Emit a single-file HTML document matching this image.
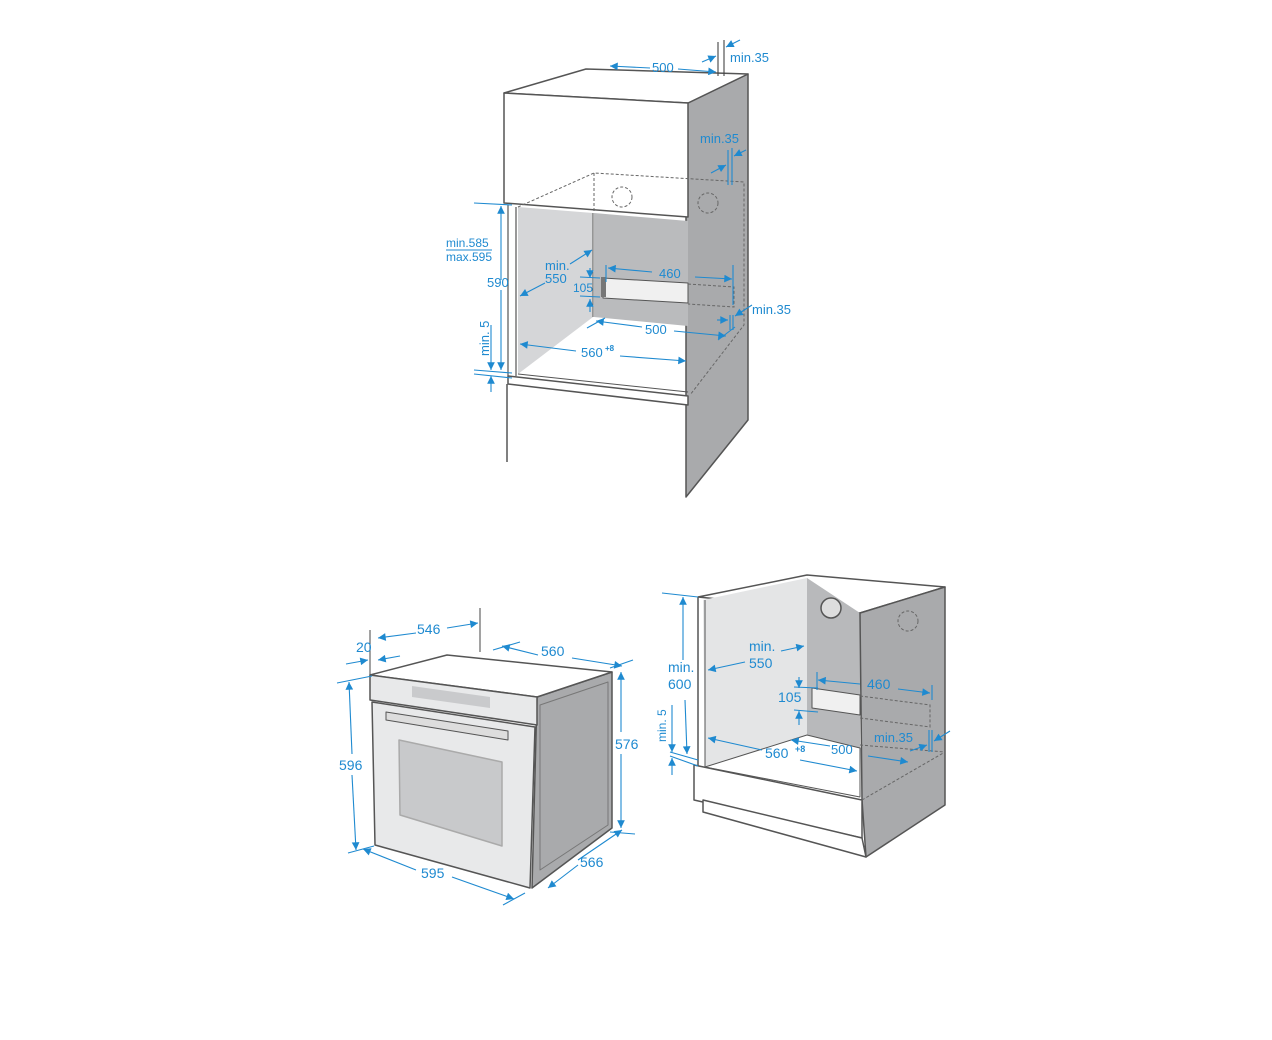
<!DOCTYPE html>
<html><head><meta charset="utf-8"><style>
html,body{margin:0;padding:0;background:#fff}
svg{display:block}
text{font-family:"Liberation Sans",sans-serif;fill:#1f8ad0}
</style></head><body>
<svg width="1272" height="1040" viewBox="0 0 1272 1040" xmlns="http://www.w3.org/2000/svg" font-size="13">
<defs>
<marker id="a" viewBox="0 0 10 10" refX="10" refY="5" markerWidth="9" markerHeight="7" orient="auto-start-reverse"><path d="M0,0L10,5L0,10z" fill="#1f8ad0"/></marker>
</defs>
<g stroke="#555" stroke-width="1.5" stroke-linejoin="round">
<polygon points="688,103 748,74 748,420 686,497 686,103" fill="#a9aaac"/>
<polygon points="504,93 586,69 748,74 688,103" fill="#fff"/>
<polygon points="504,93 688,103 688,217 504,203" fill="#fff"/>
<polygon points="518,207 593,213 593,317 518,374" fill="#d5d6d8" stroke="none"/>
<polygon points="594,213 688,221 688,326 594,317" fill="#babbbd" stroke="none"/>
<line x1="593" y1="213" x2="593" y2="317" stroke-width="1"/>
<line x1="508" y1="205" x2="508" y2="376" stroke-width="1.2"/>
<line x1="516" y1="207" x2="516" y2="376" stroke-width="1.2"/>
<polygon points="508,376 688,396 688,405 508,384" fill="#fff"/>
<polyline points="507,384 507,462" fill="none"/>
<polygon points="603,278 688,283 688,303 603,298" fill="#f0f0f0" stroke-width="1"/>
<rect x="601" y="277" width="5" height="20" fill="#777" stroke="none"/>
<polyline points="518,374 688,392" fill="none" stroke-width="1"/>
</g>
<g stroke="#666" stroke-width="1" stroke-dasharray="3,2" fill="none">
<polyline points="518,207 594,173 744,182 744,325 690,395"/>
<line x1="594" y1="173" x2="594" y2="213"/>
<circle cx="622" cy="197" r="10"/><circle cx="708" cy="203" r="10"/>
<polyline points="688,284 734,287 734,307 688,304"/>
</g>
<g stroke="#555" stroke-width="1.5" stroke-linejoin="round">
<polygon points="537,697 612,672 612,828 532,888" fill="#a9aaac"/>
<polygon points="370,675 447,655 612,672 537,697" fill="#fff"/>
<polygon points="370,675 537,697 537,725 370,700" fill="#e8e9ea"/>
<polygon points="372,702 535,727 530,888 375,845" fill="#e8e9ea"/>
<polygon points="412,686 490,697 490,708 412,697" fill="#c9cacc" stroke="none"/>
<polygon points="386,712 508,731 508,740 386,720" fill="#ddd" stroke-width="1"/>
<polygon points="399,740 502,762 502,846 400,815" fill="#c8c9cb" stroke="#aaa"/>
<polygon points="540,705 608,682 608,825 540,870" fill="#a9aaac" stroke="#777" stroke-width="1"/>
</g>
<g stroke="#555" stroke-width="1.5" stroke-linejoin="round">
<polygon points="698,597 807,575 945,587 860,613" fill="#fff"/>
<polygon points="703,600 807,578 807,735 705,767" fill="#e4e5e6" stroke="none"/>
<polygon points="807,578 860,613 860,750 807,735" fill="#b8b9bb" stroke="none"/>
<polygon points="860,613 945,587 945,805 866,857 862,800" fill="#a9aaac"/>
<polygon points="705,767 807,735 860,748 860,797" fill="#fff" stroke-width="1"/>
<polyline points="698,597 698,768" fill="none"/>
<polyline points="705,600 705,767" fill="none" stroke-width="1"/>
<polygon points="694,765 862,800 862,838 694,800" fill="#fff"/>
<polygon points="703,800 862,838 866,857 703,812" fill="#fff"/>
<circle cx="831" cy="608" r="10" fill="#ddd" stroke="#555"/>
<polygon points="812,688 860,695 860,715 812,708" fill="#f0f0f0" stroke-width="1"/>
</g>
<g stroke="#666" stroke-width="1" stroke-dasharray="3,2" fill="none">
<circle cx="908" cy="621" r="10"/>
<polyline points="860,696 930,705 930,727 860,718"/>
<polyline points="860,745 945,752"/>
<polyline points="862,800 945,752"/>
</g>
<g stroke="#1f8ad0" stroke-width="1.1" fill="none">
<line x1="650" y1="68" x2="610" y2="66" marker-end="url(#a)"/><line x1="678" y1="69" x2="716" y2="72" marker-end="url(#a)"/>
<line x1="718" y1="42" x2="718" y2="76" stroke="#444"/><line x1="724" y1="40" x2="724" y2="76" stroke="#444"/>
<line x1="702" y1="62" x2="716" y2="56" marker-end="url(#a)"/><line x1="740" y1="40" x2="726" y2="47" marker-end="url(#a)"/>
<line x1="728" y1="150" x2="728" y2="185"/><line x1="732" y1="148" x2="732" y2="185"/>
<line x1="711" y1="173" x2="726" y2="165" marker-end="url(#a)"/><line x1="746" y1="150" x2="734" y2="156" marker-end="url(#a)"/>
<line x1="474" y1="203" x2="512" y2="205"/><line x1="474" y1="370" x2="512" y2="373"/><line x1="474" y1="374" x2="512" y2="378"/>
<line x1="501" y1="280" x2="501" y2="206" marker-end="url(#a)"/><line x1="501" y1="290" x2="501" y2="370" marker-end="url(#a)"/>
<line x1="491" y1="325" x2="491" y2="370" marker-end="url(#a)"/><line x1="491" y1="392" x2="491" y2="376" marker-end="url(#a)"/>
<line x1="446" y1="250" x2="492" y2="250"/>
<line x1="545" y1="283" x2="520" y2="296" marker-end="url(#a)"/><line x1="570" y1="264" x2="592" y2="250" marker-end="url(#a)"/>
<line x1="606" y1="265" x2="606" y2="282"/><line x1="733" y1="265" x2="733" y2="305"/>
<line x1="652" y1="272" x2="608" y2="268" marker-end="url(#a)"/><line x1="695" y1="277" x2="732" y2="279" marker-end="url(#a)"/>
<line x1="590" y1="268" x2="590" y2="278" marker-end="url(#a)"/><line x1="590" y1="312" x2="590" y2="299" marker-end="url(#a)"/>
<line x1="580" y1="277" x2="600" y2="278"/><line x1="580" y1="296" x2="600" y2="297"/>
<line x1="642" y1="327" x2="596" y2="321" marker-end="url(#a)"/><line x1="674" y1="331" x2="726" y2="336" marker-end="url(#a)"/>
<line x1="587" y1="328" x2="605" y2="318"/><line x1="718" y1="340" x2="735" y2="327"/>
<line x1="730" y1="315" x2="730" y2="330"/><line x1="733" y1="315" x2="733" y2="330"/>
<line x1="717" y1="320" x2="728" y2="320" marker-end="url(#a)"/><line x1="752" y1="305" x2="735" y2="316" marker-end="url(#a)"/>
<line x1="576" y1="351" x2="520" y2="344" marker-end="url(#a)"/><line x1="620" y1="356" x2="686" y2="361" marker-end="url(#a)"/>
<line x1="480" y1="608" x2="480" y2="652" stroke="#555"/><line x1="370" y1="630" x2="370" y2="675" stroke="#555"/>
<line x1="416" y1="633" x2="378" y2="638" marker-end="url(#a)"/><line x1="447" y1="628" x2="478" y2="623" marker-end="url(#a)"/>
<line x1="346" y1="664" x2="368" y2="660" marker-end="url(#a)"/><line x1="400" y1="656" x2="378" y2="660" marker-end="url(#a)"/>
<line x1="337" y1="683" x2="372" y2="676"/><line x1="348" y1="853" x2="374" y2="846"/>
<line x1="352" y1="754" x2="349" y2="682" marker-end="url(#a)"/><line x1="352" y1="775" x2="356" y2="850" marker-end="url(#a)"/>
<line x1="493" y1="650" x2="520" y2="642"/><line x1="610" y1="668" x2="633" y2="660"/>
<line x1="538" y1="655" x2="502" y2="646" marker-end="url(#a)"/><line x1="572" y1="658" x2="622" y2="666" marker-end="url(#a)"/>
<line x1="621" y1="732" x2="621" y2="672" marker-end="url(#a)"/><line x1="621" y1="754" x2="621" y2="828" marker-end="url(#a)"/>
<line x1="416" y1="870" x2="363" y2="849" marker-end="url(#a)"/><line x1="452" y1="877" x2="514" y2="899" marker-end="url(#a)"/>
<line x1="503" y1="905" x2="525" y2="893"/><line x1="610" y1="832" x2="635" y2="834"/>
<line x1="578" y1="860" x2="622" y2="830" marker-end="url(#a)"/><line x1="578" y1="865" x2="548" y2="888" marker-end="url(#a)"/>
<line x1="662" y1="593" x2="698" y2="597"/><line x1="670" y1="752" x2="698" y2="760"/><line x1="670" y1="756" x2="698" y2="766"/>
<line x1="683" y1="660" x2="683" y2="597" marker-end="url(#a)"/><line x1="685" y1="700" x2="687" y2="754" marker-end="url(#a)"/>
<line x1="672" y1="705" x2="672" y2="752" marker-end="url(#a)"/><line x1="672" y1="775" x2="672" y2="758" marker-end="url(#a)"/>
<line x1="745" y1="662" x2="708" y2="670" marker-end="url(#a)"/><line x1="781" y1="651" x2="804" y2="646" marker-end="url(#a)"/>
<line x1="817" y1="672" x2="817" y2="690"/><line x1="932" y1="685" x2="932" y2="700"/>
<line x1="860" y1="684" x2="818" y2="680" marker-end="url(#a)"/><line x1="898" y1="689" x2="930" y2="693" marker-end="url(#a)"/>
<line x1="794" y1="687" x2="818" y2="688"/><line x1="794" y1="710" x2="818" y2="712"/>
<line x1="799" y1="677" x2="799" y2="688" marker-end="url(#a)"/><line x1="799" y1="725" x2="799" y2="711" marker-end="url(#a)"/>
<line x1="762" y1="750" x2="708" y2="738" marker-end="url(#a)"/><line x1="800" y1="760" x2="857" y2="771" marker-end="url(#a)"/>
<line x1="830" y1="746" x2="791" y2="740" marker-end="url(#a)"/><line x1="868" y1="756" x2="908" y2="762" marker-end="url(#a)"/>
<line x1="929" y1="730" x2="929" y2="752"/><line x1="932" y1="730" x2="932" y2="752"/>
<line x1="910" y1="751" x2="927" y2="745" marker-end="url(#a)"/><line x1="950" y1="731" x2="934" y2="741" marker-end="url(#a)"/>
</g>
<g>
<text x="652" y="72">500</text>
<text x="730" y="62">min.35</text>
<text x="700" y="143">min.35</text>
<text x="446" y="247" style="font-size:12px">min.585</text>
<text x="446" y="261" style="font-size:12px">max.595</text>
<text x="487" y="287">590</text>
<text x="545" y="270">min.</text>
<text x="545" y="283">550</text>
<text x="573" y="292" style="font-size:12px">105</text>
<text x="659" y="278">460</text>
<text x="645" y="334">500</text>
<text x="752" y="314">min.35</text>
<text x="581" y="357">560</text><text x="605" y="351" style="font-size:8px;font-weight:bold">+8</text>
<text x="489" y="356" transform="rotate(-90 489 356)">min. 5</text>
<text x="417" y="634" style="font-size:14px">546</text>
<text x="356" y="652" style="font-size:14px">20</text>
<text x="541" y="656" style="font-size:14px">560</text>
<text x="339" y="770" style="font-size:14px">596</text>
<text x="615" y="749" style="font-size:14px">576</text>
<text x="421" y="878" style="font-size:14px">595</text>
<text x="580" y="867" style="font-size:14px">566</text>
<text x="668" y="672" style="font-size:14px">min.</text>
<text x="668" y="689" style="font-size:14px">600</text>
<text x="666" y="742" style="font-size:12px" transform="rotate(-90 666 742)">min. 5</text>
<text x="749" y="651" style="font-size:14px">min.</text>
<text x="749" y="668" style="font-size:14px">550</text>
<text x="778" y="702" style="font-size:14px">105</text>
<text x="867" y="689" style="font-size:14px">460</text>
<text x="765" y="758" style="font-size:14px">560</text><text x="795" y="752" style="font-size:9px;font-weight:bold">+8</text>
<text x="831" y="754">500</text>
<text x="874" y="742">min.35</text>
</g>
</svg>
</body></html>
